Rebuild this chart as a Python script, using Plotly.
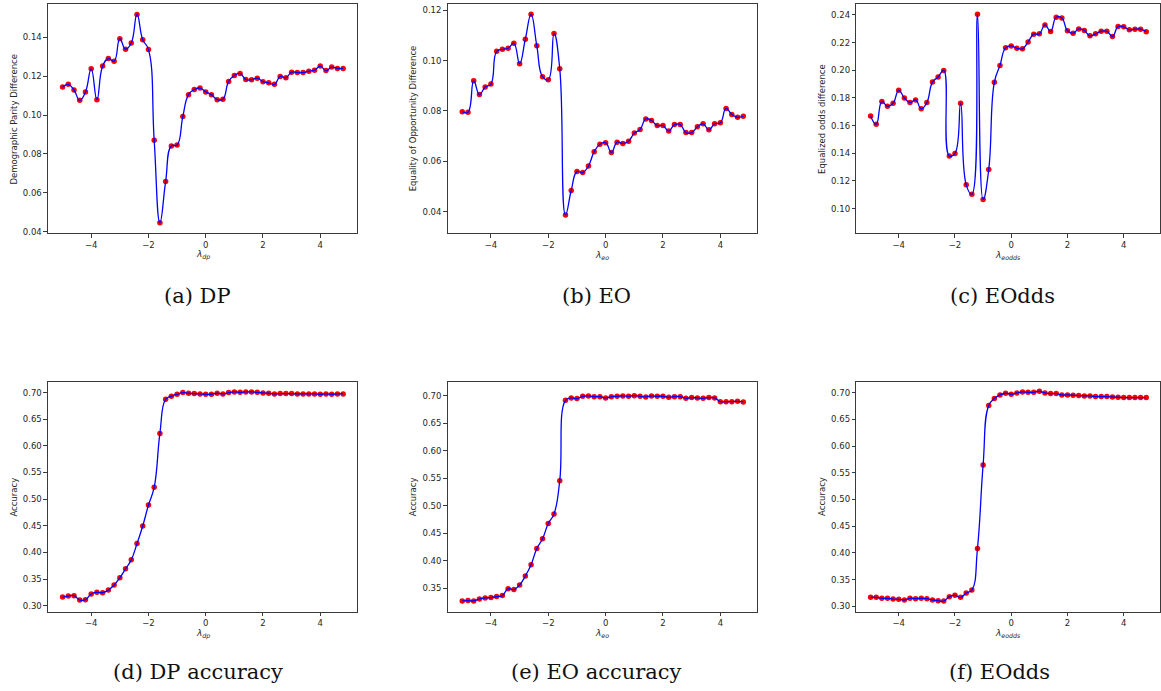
import plotly.graph_objects as go

W, H = 1161, 691

lam = [-5.0, -4.8, -4.6, -4.4, -4.2, -4.0, -3.8, -3.6, -3.4, -3.2,
       -3.0, -2.8, -2.6, -2.4, -2.2, -2.0, -1.8, -1.6, -1.4, -1.2,
       -1.0, -0.8, -0.6, -0.4, -0.2, 0.0, 0.2, 0.4, 0.6, 0.8,
       1.0, 1.2, 1.4, 1.6, 1.8, 2.0, 2.2, 2.4, 2.6, 2.8,
       3.0, 3.2, 3.4, 3.6, 3.8, 4.0, 4.2, 4.4, 4.6, 4.8]

dp_diff = [0.1144, 0.1158, 0.1129, 0.1076, 0.1119, 0.1238, 0.1079, 0.1252, 0.1291, 0.1277,
           0.1393, 0.1339, 0.1371, 0.1518, 0.1388, 0.1337, 0.0870, 0.0445, 0.0658, 0.0841,
           0.0846, 0.0992, 0.1105, 0.1131, 0.1139, 0.1119, 0.1105, 0.1079, 0.1081, 0.1173,
           0.1204, 0.1214, 0.1183, 0.1182, 0.1190, 0.1172, 0.1166, 0.1158, 0.1199, 0.1192,
           0.1221, 0.1219, 0.1219, 0.1226, 0.1231, 0.1252, 0.1229, 0.1247, 0.1240, 0.1240]

eo_diff = [0.0797, 0.0795, 0.0920, 0.0865, 0.0895, 0.0907, 0.1037, 0.1045, 0.1049, 0.1069,
           0.0988, 0.1085, 0.1184, 0.1059, 0.0936, 0.0924, 0.1108, 0.0968, 0.0387, 0.0484,
           0.0559, 0.0555, 0.0581, 0.0638, 0.0668, 0.0674, 0.0635, 0.0676, 0.0671, 0.0680,
           0.0712, 0.0726, 0.0768, 0.0762, 0.0742, 0.0742, 0.0720, 0.0746, 0.0746, 0.0714,
           0.0714, 0.0737, 0.0749, 0.0725, 0.0749, 0.0753, 0.0810, 0.0786, 0.0775, 0.0779]

eodds_diff = [0.1670, 0.1610, 0.1774, 0.1740, 0.1762, 0.1855, 0.1800, 0.1767, 0.1786, 0.1721,
              0.1767, 0.1915, 0.1951, 0.1999, 0.1380, 0.1399, 0.1762, 0.1172, 0.1104, 0.2405,
              0.1066, 0.1282, 0.1913, 0.2035, 0.2162, 0.2176, 0.2159, 0.2155, 0.2205, 0.2261,
              0.2263, 0.2328, 0.2280, 0.2383, 0.2378, 0.2285, 0.2268, 0.2299, 0.2287, 0.2249,
              0.2263, 0.2282, 0.2282, 0.2244, 0.2316, 0.2314, 0.2292, 0.2297, 0.2297, 0.2278]

dp_acc = [0.3162, 0.3181, 0.3187, 0.3106, 0.3112, 0.3218, 0.3250, 0.3244, 0.3293, 0.3387,
          0.3524, 0.3692, 0.3860, 0.4165, 0.4496, 0.4888, 0.5224, 0.6234, 0.6875, 0.6931,
          0.6969, 0.7000, 0.6988, 0.6981, 0.6975, 0.6969, 0.6969, 0.6988, 0.6975, 0.7000,
          0.7012, 0.7006, 0.7012, 0.7012, 0.7006, 0.6994, 0.6988, 0.6975, 0.6981, 0.6981,
          0.6981, 0.6975, 0.6975, 0.6975, 0.6975, 0.6969, 0.6975, 0.6969, 0.6975, 0.6975]

eo_acc = [0.3267, 0.3273, 0.3267, 0.3303, 0.3322, 0.3328, 0.3346, 0.3364, 0.3491, 0.3473,
          0.3558, 0.3721, 0.3927, 0.4223, 0.4399, 0.4677, 0.4852, 0.5457, 0.6921, 0.6964,
          0.6952, 0.6994, 0.7000, 0.6988, 0.6988, 0.6964, 0.6988, 0.6994, 0.7000, 0.6994,
          0.7006, 0.6994, 0.6982, 0.7000, 0.6994, 0.6994, 0.6976, 0.6988, 0.6988, 0.6958,
          0.6970, 0.6964, 0.6958, 0.6970, 0.6964, 0.6897, 0.6897, 0.6897, 0.6903, 0.6891]

eodds_acc = [0.3168, 0.3168, 0.3150, 0.3150, 0.3137, 0.3131, 0.3119, 0.3150, 0.3144, 0.3150,
             0.3144, 0.3119, 0.3106, 0.3100, 0.3181, 0.3206, 0.3168, 0.3249, 0.3305, 0.4083,
             0.5644, 0.6757, 0.6888, 0.6956, 0.6988, 0.6969, 0.6994, 0.7012, 0.7006, 0.7006,
             0.7025, 0.6994, 0.6981, 0.6981, 0.6956, 0.6956, 0.6950, 0.6944, 0.6938, 0.6938,
             0.6925, 0.6925, 0.6925, 0.6919, 0.6913, 0.6907, 0.6907, 0.6907, 0.6907, 0.6907]

y_titles = ["Demographic Parity Difference", "Equality of Opportunity Difference",
            "Equalized odds difference", "Accuracy", "Accuracy", "Accuracy"]
x_titles = ["<i>λ</i><sub><i>dp</i></sub>", "<i>λ</i><sub><i>eo</i></sub>",
            "<i>λ</i><sub><i>eodds</i></sub>"] * 2
captions = ["(a) DP", "(b) EO", "(c) EOdds", "(d) DP accuracy", "(e) EO accuracy", "(f) EOdds"]
x_ticks = [-4, -2, 0, 2, 4]
x_tick_text = ["\u22124", "\u22122", "0", "2", "4"]
y_ticks = [
    [0.04, 0.06, 0.08, 0.10, 0.12, 0.14],
    [0.04, 0.06, 0.08, 0.10, 0.12],
    [0.10, 0.12, 0.14, 0.16, 0.18, 0.20, 0.22, 0.24],
    [0.30, 0.35, 0.40, 0.45, 0.50, 0.55, 0.60, 0.65, 0.70],
    [0.35, 0.40, 0.45, 0.50, 0.55, 0.60, 0.65, 0.70],
    [0.30, 0.35, 0.40, 0.45, 0.50, 0.55, 0.60, 0.65, 0.70],
]
series = [dp_diff, eo_diff, eodds_diff, dp_acc, eo_acc, eodds_acc]

# layout (pixels)
col_px = [(48, 357.5), (448, 758), (857, 1161)]
row_px = [(4, 234.3), (383.3, 614.3)]
y_ranges = [[0.0391, 0.1572], [0.0314, 0.1225], [0.0822, 0.2479],
            [0.2888, 0.7206], [0.3072, 0.7261], [0.2901, 0.7205]]
x_range = [-5.51, 5.29]
ytitle_x = [14, 413, 822]
xtitle_y = [256.5, 636.5]
cap_x = [[198, 597, 1003], [198, 597, 1000]]
cap_y = [297, 675]

def fx(p):
    return p / W

def fy(p):
    return 1 - p / H

tick_font = dict(family="DejaVu Sans", size=8.5, color="#262626")
fig = go.Figure()
annotations = []
layout = {}

for i in range(6):
    r, c = divmod(i, 3)
    n = "" if i == 0 else str(i + 1)
    xa, ya = "x" + n, "y" + n
    fig.add_trace(go.Scatter(x=lam, y=series[i], mode="markers", xaxis=xa, yaxis=ya,
                             marker=dict(color="#ff0000", size=5.5, line=dict(width=0)),
                             showlegend=False, hoverinfo="skip"))
    fig.add_trace(go.Scatter(x=lam, y=series[i], mode="lines", xaxis=xa, yaxis=ya,
                             line=dict(color="#0000ff", width=1.3, shape="spline", smoothing=1.3),
                             showlegend=False))
    x0, x1 = col_px[c]
    y0, y1 = row_px[r]
    common = dict(showline=True, mirror=True, linecolor="#3a3a3a", linewidth=1,
                  ticks="outside", ticklen=3.5, tickwidth=0.8, tickcolor="#3a3a3a",
                  showgrid=False, zeroline=False, tickfont=tick_font)
    layout["xaxis" + n] = dict(domain=[fx(x0), min(fx(x1), 1.0)], anchor=ya, range=x_range,
                               tickvals=x_ticks, ticktext=x_tick_text, **common)
    layout["yaxis" + n] = dict(domain=[fy(y1), fy(y0)], anchor=xa, range=y_ranges[i],
                               tickvals=y_ticks[i],
                               ticktext=["%.2f" % v for v in y_ticks[i]], **common)
    annotations.append(dict(text=y_titles[i], x=fx(ytitle_x[c]), y=fy((y0 + y1) / 2),
                            xref="paper", yref="paper", showarrow=False, textangle=-90,
                            font=dict(family="DejaVu Sans", size=8.5, color="#262626"),
                            xanchor="center", yanchor="middle"))
    annotations.append(dict(text=x_titles[i], x=fx((x0 + min(x1, 1161)) / 2), y=fy(xtitle_y[r]),
                            xref="paper", yref="paper", showarrow=False,
                            font=dict(family="DejaVu Sans", size=9, color="#262626"),
                            xanchor="center", yanchor="middle"))
    annotations.append(dict(text=captions[i], x=fx(cap_x[r][c]), y=fy(cap_y[r]),
                            xref="paper", yref="paper", showarrow=False,
                            font=dict(family="DejaVu Serif", size=21, color="#111111"),
                            xanchor="center", yanchor="middle"))

fig.update_layout(width=W, height=H, margin=dict(l=0, r=0, t=0, b=0),
                  paper_bgcolor="white", plot_bgcolor="white",
                  annotations=annotations, **layout)
fig.write_html("out.html")
